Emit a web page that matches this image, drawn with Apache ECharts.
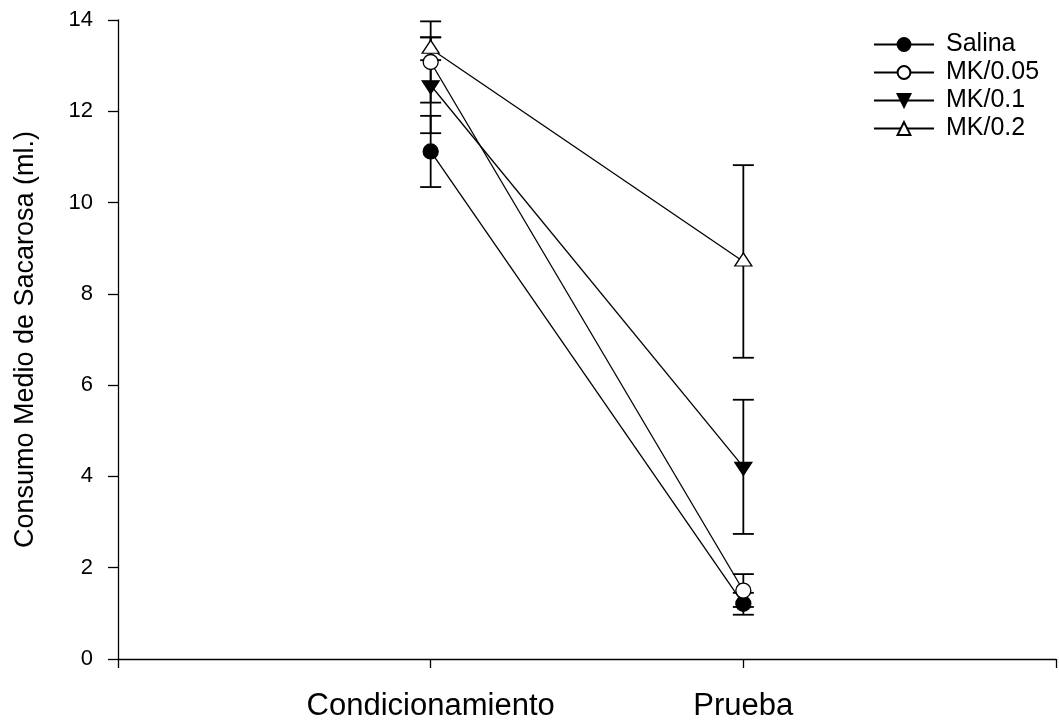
<!DOCTYPE html>
<html>
<head>
<meta charset="utf-8">
<style>
  html, body { margin: 0; padding: 0; background: #fff; }
  #chart { width: 1059px; height: 726px; }
</style>
<script src="https://cdn.jsdelivr.net/npm/echarts@6/dist/echarts.min.js"></script>
</head>
<body>
<div id="chart"></div>
<script>
// ---- data ----
const categories = ['Condicionamiento', 'Prueba'];
const xPositions = [1, 2];
const yTicks = [0, 2, 4, 6, 8, 10, 12, 14];
const seriesNames = ['Salina', 'MK/0.05', 'MK/0.1', 'MK/0.2'];
const salinaMean = [11.12, 1.21];
const salinaErr = [0.78, 0.24];
const mk005Mean = [13.08, 1.50];
const mk005Err = [0.89, 0.36];
const mk01Mean = [12.57, 4.21];
const mk01Err = [1.05, 1.47];
const mk02Mean = [13.37, 8.71];
const mk02Err = [0.25, 2.11];

const FONT = '"Liberation Sans", Arial, Helvetica, sans-serif';
const chart = echarts.init(document.getElementById('chart'), null, { renderer: 'canvas' });

const means = [salinaMean, mk005Mean, mk01Mean, mk02Mean];
const errs = [salinaErr, mk005Err, mk01Err, mk02Err];

const styles = [
  { symbol: 'circle', size: 15, fill: '#000', rotate: 0, offset: [0, 0] },
  { symbol: 'circle', size: 15, fill: '#fff', rotate: 0, offset: [0, 0] },
  { symbol: 'triangle', size: [17, 13], fill: '#000', rotate: 180, offset: [0, 2] },
  { symbol: 'triangle', size: [17, 13], fill: '#fff', rotate: 0, offset: [0, -2] }
];

const errData = [];
means.forEach((m, s) => {
  m.forEach((v, i) => {
    errData.push([xPositions[i], v - errs[s][i], v + errs[s][i]]);
  });
});

const lineSeries = seriesNames.map((name, s) => ({
  name: name,
  type: 'line',
  z: 3 + s,
  data: means[s].map((v, i) => [xPositions[i], v]),
  symbol: styles[s].symbol,
  symbolSize: styles[s].size,
  symbolRotate: styles[s].rotate,
  symbolOffset: styles[s].offset,
  showAllSymbol: true,
  lineStyle: { color: '#000', width: 1.3 },
  itemStyle: { color: styles[s].fill, borderColor: '#000', borderWidth: 1.3 },
  emphasis: { disabled: true }
}));

const errorSeries = {
  type: 'custom',
  z: 2,
  silent: true,
  data: errData,
  renderItem: function (params, api) {
    const x = api.value(0);
    const lo = api.coord([x, api.value(1)]);
    const hi = api.coord([x, api.value(2)]);
    const hw = 10.5;
    const st = { stroke: '#000', lineWidth: 1.8 };
    return {
      type: 'group',
      children: [
        { type: 'line', shape: { x1: lo[0], y1: lo[1], x2: hi[0], y2: hi[1] }, style: st },
        { type: 'line', shape: { x1: hi[0] - hw, y1: hi[1], x2: hi[0] + hw, y2: hi[1] }, style: st },
        { type: 'line', shape: { x1: lo[0] - hw, y1: lo[1], x2: lo[0] + hw, y2: lo[1] }, style: st }
      ]
    };
  }
};

chart.setOption({
  animation: false,
  backgroundColor: '#fff',
  grid: { left: 118, right: 2, top: 20, bottom: 67, containLabel: false },
  legend: {
    data: seriesNames,
    orient: 'vertical',
    left: 868,
    top: 27,
    itemWidth: 60,
    itemHeight: 16,
    itemGap: 3,
    padding: 5,
    selectedMode: false,
    textStyle: { color: '#000', fontSize: 25, fontFamily: FONT, lineHeight: 25, padding: [0, 0, 0, 7] }
  },
  xAxis: {
    type: 'value',
    min: 0,
    max: 3,
    interval: 1,
    splitLine: { show: false },
    axisLine: { lineStyle: { color: '#000', width: 1.3 } },
    axisTick: { show: true, length: 9, lineStyle: { color: '#000', width: 1.3 } },
    axisLabel: {
      margin: 32,
      color: '#000',
      fontSize: 31,
      fontFamily: FONT,
      showMinLabel: true,
      showMaxLabel: true,
      formatter: function (v) {
        const idx = xPositions.indexOf(v);
        return idx >= 0 ? categories[idx] : '';
      }
    }
  },
  yAxis: {
    type: 'value',
    min: yTicks[0],
    max: yTicks[yTicks.length - 1],
    interval: 2,
    name: 'Consumo Medio de Sacarosa (ml.)',
    nameLocation: 'middle',
    nameGap: 79,
    nameTextStyle: { color: '#000', fontSize: 27, fontFamily: FONT },
    splitLine: { show: false },
    axisLine: { show: true, lineStyle: { color: '#000', width: 1.3 } },
    axisTick: { show: true, length: 10, lineStyle: { color: '#000', width: 1.3 } },
    axisLabel: { margin: 25, color: '#000', fontSize: 22, fontFamily: FONT }
  },
  series: [errorSeries].concat(lineSeries)
});
</script>
</body>
</html>
